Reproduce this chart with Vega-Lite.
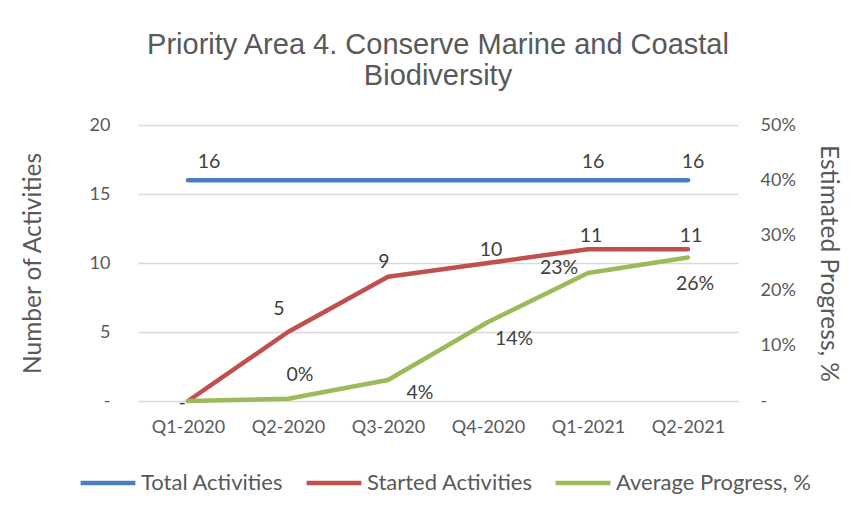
{
  "$schema": "https://vega.github.io/schema/vega-lite/v6.json",
  "width": 600,
  "height": 276,
  "autosize": {"type": "none"},
  "padding": {"left": 138, "top": 125, "right": 126, "bottom": 113},
  "background": "white",
  "title": {
    "text": ["Priority Area 4. Conserve Marine and Coastal", "Biodiversity"],
    "font": "Liberation Sans",
    "fontSize": 29,
    "fontWeight": "normal",
    "color": "#595959",
    "lineHeight": 31,
    "anchor": "middle",
    "offset": 25
  },
  "config": {
    "view": {"stroke": null},
    "font": "Lato",
    "axis": {"labelFont": "Lato", "titleFont": "Lato", "labelColor": "#595959", "titleColor": "#595959", "labelFontSize": 18, "titleFontSize": 24.5, "titleFontWeight": "normal", "ticks": false, "domain": false, "gridColor": "#d9d9d9", "gridWidth": 1.3, "labelOverlap": false},
    "text": {"baseline": "middle", "fontSize": 19.5, "color": "#404040", "font": "Lato"}
  },
  "data": {
    "values": [
      {"quarter": "Q1-2020", "series": "Total Activities", "value": 16, "label": "16"},
      {"quarter": "Q2-2020", "series": "Total Activities", "value": 16, "label": "16"},
      {"quarter": "Q3-2020", "series": "Total Activities", "value": 16, "label": "16"},
      {"quarter": "Q4-2020", "series": "Total Activities", "value": 16, "label": "16"},
      {"quarter": "Q1-2021", "series": "Total Activities", "value": 16, "label": "16"},
      {"quarter": "Q2-2021", "series": "Total Activities", "value": 16, "label": "16"},
      {"quarter": "Q1-2020", "series": "Started Activities", "value": 0, "label": "-"},
      {"quarter": "Q2-2020", "series": "Started Activities", "value": 5, "label": "5"},
      {"quarter": "Q3-2020", "series": "Started Activities", "value": 9, "label": "9"},
      {"quarter": "Q4-2020", "series": "Started Activities", "value": 10, "label": "10"},
      {"quarter": "Q1-2021", "series": "Started Activities", "value": 11, "label": "11"},
      {"quarter": "Q2-2021", "series": "Started Activities", "value": 11, "label": "11"},
      {"quarter": "Q1-2020", "series": "Average Progress, %", "value": 0, "label": "-"},
      {"quarter": "Q2-2020", "series": "Average Progress, %", "value": 0.004, "label": "0%"},
      {"quarter": "Q3-2020", "series": "Average Progress, %", "value": 0.038, "label": "4%"},
      {"quarter": "Q4-2020", "series": "Average Progress, %", "value": 0.143, "label": "14%"},
      {"quarter": "Q1-2021", "series": "Average Progress, %", "value": 0.232, "label": "23%"},
      {"quarter": "Q2-2021", "series": "Average Progress, %", "value": 0.26, "label": "26%"}
    ]
  },
  "encoding": {
    "x": {
      "field": "quarter", "type": "ordinal", "sort": null,
      "scale": {"type": "point", "padding": 0.5},
      "axis": {"title": null, "labelAngle": 0, "labelPadding": 17, "grid": false}
    }
  },
  "layer": [
    {
      "transform": [{"filter": "datum.series !== 'Average Progress, %'"}],
      "encoding": {
        "y": {
          "field": "value", "type": "quantitative",
          "scale": {"domain": [0, 20]},
          "axis": {"title": "Number of Activities", "orient": "left", "values": [0, 5, 10, 15, 20], "labelExpr": "datum.value == 0 ? '-' : datum.label", "labelPadding": 28, "titlePadding": 44, "grid": true}
        }
      },
      "layer": [
        {
          "mark": {"type": "line", "strokeWidth": 4.5, "strokeCap": "round", "strokeJoin": "round"},
          "encoding": {
            "color": {
              "field": "series", "type": "nominal",
              "scale": {"domain": ["Total Activities", "Started Activities", "Average Progress, %"], "range": ["#4a7ebb", "#c0504d", "#9bbb59"]},
              "legend": {"orient": "none", "legendX": -60, "legendY": 328, "direction": "horizontal", "title": null, "symbolType": "stroke", "symbolSize": 3000, "symbolStrokeWidth": 4.5, "labelFont": "Lato", "labelFontSize": 22, "labelColor": "#595959", "labelOffset": 3, "labelLimit": 0, "columnPadding": 13}
            }
          }
        },
        {
          "transform": [{"filter": "datum.series === 'Total Activities' && datum.quarter === 'Q1-2020'"}],
          "mark": {"type": "text", "dx": 21, "dy": -18},
          "encoding": {"text": {"field": "label"}}
        },
        {
          "transform": [{"filter": "datum.series === 'Total Activities' && (datum.quarter === 'Q1-2021' || datum.quarter === 'Q2-2021')"}],
          "mark": {"type": "text", "dx": 5, "dy": -18},
          "encoding": {"text": {"field": "label"}}
        },
        {
          "transform": [{"filter": "datum.series === 'Started Activities' && datum.quarter === 'Q2-2020'"}],
          "mark": {"type": "text", "dx": -9, "dy": -23},
          "encoding": {"text": {"field": "label"}}
        },
        {
          "transform": [{"filter": "datum.series === 'Started Activities' && datum.quarter === 'Q3-2020'"}],
          "mark": {"type": "text", "dx": -4, "dy": -15},
          "encoding": {"text": {"field": "label"}}
        },
        {
          "transform": [{"filter": "datum.series === 'Started Activities' && (datum.quarter === 'Q4-2020' || datum.quarter === 'Q1-2021' || datum.quarter === 'Q2-2021')"}],
          "mark": {"type": "text", "dx": 3, "dy": -13},
          "encoding": {"text": {"field": "label"}}
        },
        {
          "transform": [{"filter": "datum.series === 'Started Activities' && datum.quarter === 'Q1-2020'"}],
          "mark": {"type": "text", "dx": -6, "dy": 2},
          "encoding": {"text": {"field": "label"}}
        }
      ]
    },
    {
      "transform": [{"filter": "datum.series === 'Average Progress, %'"}],
      "encoding": {
        "y": {
          "field": "value", "type": "quantitative",
          "scale": {"domain": [0, 0.5]},
          "axis": {"title": "Estimated Progress, %", "orient": "right", "values": [0, 0.1, 0.2, 0.3, 0.4, 0.5], "labelExpr": "datum.value == 0 ? '-' : format(datum.value, '.0%')", "labelPadding": 22, "titlePadding": 20, "grid": false}
        }
      },
      "layer": [
        {
          "mark": {"type": "line", "strokeWidth": 4.5, "strokeCap": "round", "strokeJoin": "round"},
          "encoding": {"color": {"field": "series", "type": "nominal"}}
        },
        {
          "transform": [{"filter": "datum.quarter === 'Q2-2020'"}],
          "mark": {"type": "text", "dx": 12, "dy": -24},
          "encoding": {"text": {"field": "label"}}
        },
        {
          "transform": [{"filter": "datum.quarter === 'Q3-2020'"}],
          "mark": {"type": "text", "dx": 32, "dy": 13},
          "encoding": {"text": {"field": "label"}}
        },
        {
          "transform": [{"filter": "datum.quarter === 'Q4-2020'"}],
          "mark": {"type": "text", "dx": 26, "dy": 17},
          "encoding": {"text": {"field": "label"}}
        },
        {
          "transform": [{"filter": "datum.quarter === 'Q1-2021'"}],
          "mark": {"type": "text", "dx": -29, "dy": -5},
          "encoding": {"text": {"field": "label"}}
        },
        {
          "transform": [{"filter": "datum.quarter === 'Q2-2021'"}],
          "mark": {"type": "text", "dx": 7, "dy": 27},
          "encoding": {"text": {"field": "label"}}
        }
      ]
    }
  ],
  "resolve": {"scale": {"y": "independent"}}
}
